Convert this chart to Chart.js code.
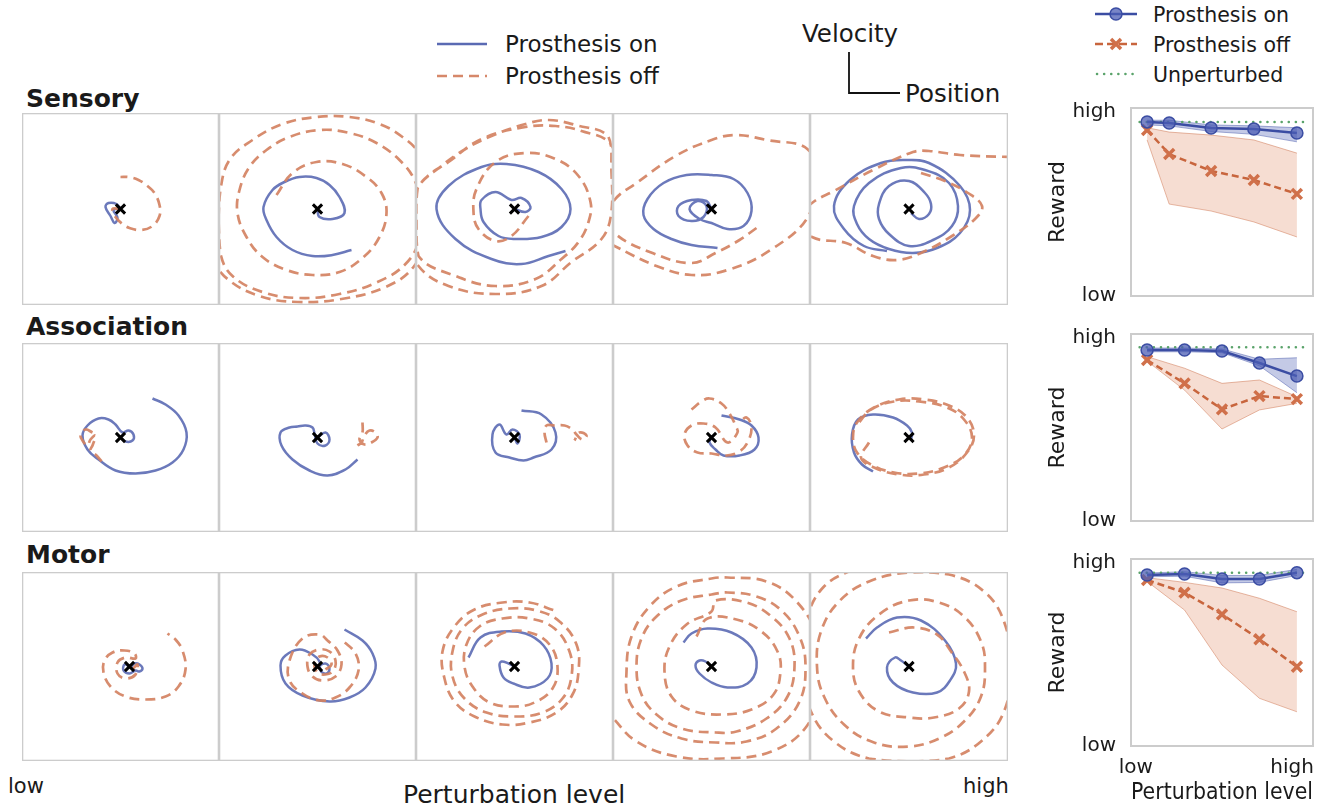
<!DOCTYPE html>
<html><head><meta charset="utf-8">
<script src="https://cdn.jsdelivr.net/npm/chart.js@4.4.1/dist/chart.umd.min.js"></script>
<style>
body{margin:0;width:1325px;height:809px;background:#fff;position:relative;overflow:hidden;font-family:"DejaVu Sans",sans-serif;color:#1a1a1a}
canvas{position:absolute}
.t{position:absolute;white-space:nowrap;line-height:1;transform:translateY(-50%)}
svg{position:absolute;left:0;top:0}
</style></head><body>
<svg width="1325" height="809">
  <line x1="437" y1="44" x2="487" y2="44" stroke="#5a6ab3" stroke-width="2.5"/>
  <line x1="437" y1="76" x2="487" y2="76" stroke="#d6886a" stroke-width="2.6" stroke-dasharray="10,6"/>
  <polyline points="849,52 849,93 900,93" fill="none" stroke="#111" stroke-width="1.8"/>
  <line x1="1095" y1="14" x2="1137" y2="14" stroke="#3b4da3" stroke-width="2.5"/>
  <circle cx="1116" cy="14" r="6" fill="rgba(76,94,180,0.75)" stroke="#3b4da3" stroke-width="1.5"/>
  <line x1="1095" y1="44" x2="1137" y2="44" stroke="#c8653d" stroke-width="2.5" stroke-dasharray="8,4"/>
  <path d="M1111,39 L1121,49 M1121,39 L1111,49" stroke="#d0704a" stroke-width="3.5"/>
  <line x1="1097" y1="74" x2="1137" y2="74" stroke="#5aa36a" stroke-width="2.5" stroke-dasharray="0.1,7" stroke-linecap="round"/>
</svg>
<div class="t" style="left:505px;top:44px;font-size:23px">Prosthesis on</div>
<div class="t" style="left:505px;top:76px;font-size:23px">Prosthesis off</div>
<div class="t" style="left:802px;top:34px;font-size:24.5px">Velocity</div>
<div class="t" style="left:905px;top:94px;font-size:24.5px">Position</div>
<div class="t" style="left:1153px;top:15px;font-size:20.5px">Prosthesis on</div>
<div class="t" style="left:1153px;top:45px;font-size:20.5px">Prosthesis off</div>
<div class="t" style="left:1153px;top:75px;font-size:20.5px">Unperturbed</div>
<div class="t" style="left:26px;top:98px;font-size:25px;font-weight:bold">Sensory</div>
<div class="t" style="left:26px;top:326px;font-size:25px;font-weight:bold">Association</div>
<div class="t" style="left:26px;top:554px;font-size:25px;font-weight:bold">Motor</div>
<div class="t" style="left:8px;top:786px;font-size:21px">low</div>
<div class="t" style="left:963px;top:786px;font-size:21px">high</div>
<div class="t" style="left:403px;top:794px;font-size:25px">Perturbation level</div>
<script>
// ---------- phase-portrait trajectories (position, velocity), flat [x,y,...] ----------
const S1_on=[0,0,-4,5,-12,6,-15,2,-10,-7,-6,-14,-3,-9,-7,-1,0,0];
const S1_off=[0,0,-8,0,-5,-8,2,-15,9,-19,21,-21,32,-17,39,-7,39,4,34,16,27,23,18,29,8,32,0,32];
const S2_on=[0,0,2,-8,15,-10,27,-4,22,12,12,24,-1,31,-18,32,-33,27,-45,19,-54,2,-51,-11,-41,-28,-25,-41,-5,-47,15,-46,34,-41];
const S2_off=[-41,14,-25,36,-1,47,25,45,49,32,64,16,69,-4,62,-28,45,-49,22,-63,-5,-66,-31,-61,-55,-48,-71,-28,-80,-4,-78,19,-68,42,-51,59,-28,72,2,79,32,76,59,66,82,49,97,29,104,2,102,-30,88,-55,60,-73,22,-85,-18,-89,-55,-83,-85,-67,-97,-45,-99,-10,-97,20,-88,49,-65,69,-35,85,-1,92,32,92,62,85,85,72,102,55,112,25,110,-25,96,-58,68,-78,24,-90,-20,-93,-58,-87,-90,-70,-110,-45];
const S3_on=[0,0,11,-3,16,2,7,11,-3,9,-19,17,-33,9,-34,0,-31,-13,-16,-27,1,-30,27,-28,47,-18,56,0,47,20,24,37,-8,45,-33,42,-66,23,-78,0,-59,-30,-23,-50,7,-55,34,-47,51,-42];
const S3_off=[14,-7,-3,-27,-19,-32,-36,-20,-41,-3,-38,20,-19,47,11,56,41,50,64,33,76,7,74,-13,64,-33,47,-50,21,-70,-19,-77,-59,-67,-96,-47,-98,-13,-97,20,-73,43,-49,60,-23,73,11,85,34,89,61,84,94,72,97,37,97,-3,87,-30,57,-53,27,-77,-19,-85,-66,-77,-96,-57,-103,-30,-101,10,-90,30,-66,47,-33,70,11,82,41,83,67,78,96,65,104,30];
const S4_on=[0,0,-5,8,-20,9,-33,3,-33,-7,-20,-12,-8,-8,-5,3,-14,8,-22,0,-12,-10,0,-14,16,-20,32,-17,40,-2,36,16,22,30,0,34,-25,34,-48,26,-64,10,-68,-6,-58,-20,-40,-30,-20,-36,6,-39];
const S4_off=[45,-19,28,-31,4,-44,-20,-54,-59,-44,-97,-24,-101,-7,-97,9,-75,26,-36,53,0,69,24,74,55,69,97,59,99,26,97,-7,59,-41,16,-61,-20,-66,-55,-57,-97,-37,-108,-31];
const S5_on=[2,-4,10,-10,20,-5,22,5,16,16,0,28,-20,23,-30,5,-30,-10,-20,-25,0,-37,24,-31,43,-17,49,3,40,26,16,39,-8,41,-40,26,-55,3,-52,-15,-40,-30,-20,-40,4,-44,28,-39,51,-24,61,-1,51,23,20,46,-4,49,-28,46,-59,29,-75,3,-65,-20,-45,-37,-22,-42];
const S5_off=[12,36,36,28,59,16,73,3,67,-9,43,-27,12,-44,-12,-51,-36,-47,-63,-34,-97,-28,-110,-10,-97,6,-75,18,-36,39,4,57,20,58,51,54,100,52];
const A1_on=[0,0,5,-4,12,-3,13,3,8,7,2,5,-5,13,-12,18,-22,19,-33,12,-38,2,-33,-12,-22,-22,-5,-33,15,-36,35,-33,52,-25,63,-12,66,5,58,22,45,33,32,39];
const A1_off=[-28,5,-35,8,-40,3,-38,-3,-33,-8,-30,-2,-25,2,-28,-8,-30,-13,-24,-18,-18,-25];
const A2_on=[0,0,8,5,12,-2,8,-8,0,-6,-3,4,-5,10,-12,12,-20,11,-28,10,-37,5,-36,-8,-25,-22,-8,-33,10,-38,28,-32,40,-22];
const A2_off=[45,15,45,5,42,-2,47,-7,54,-5,60,0,58,5,52,7,47,2,44,-5,40,-8];
const A3_on=[0,0,3,-6,5,3,-2,8,-8,3,-15,13,-22,3,-19,-15,-5,-20,9,-23,19,-20,37,-12,41,5,27,23,7,27];
const A3_off=[32,-5,30,5,32,12,40,12,50,12,58,8,62,3,68,-2,72,2,65,5,60,-3];
const A4_on=[0,0,-2,-5,4,-12,12,-18,28,-18,43,-12,47,0,40,12,28,18,10,22];
const A4_off=[-20,28,-10,36,-2,39,10,34,18,24,24,12,26,5,16,-5,4,10,-8,14,-20,12,-27,3,-24,-8,-14,-15,0,-16,15,-18,28,-14,36,-5,40,10,35,20,28,15];
const A5_on=[2,-2,3,5,-2,12,-16,20,-36,23,-51,18,-57,3,-55,-15,-47,-27,-36,-34];
const A5_off=[-40,-5,-48,-20,-35,-30,-10,-37,15,-37,40,-30,58,-15,65,2,58,20,40,32,15,38,-10,38,-35,30,-52,15,-56,0,-52,-15,-38,-27,-15,-35,10,-36,35,-30,55,-18,63,0,55,18,38,30,10,36,-15,36,-38,28,-50,15];
const M1_on=[9,0,4,2,3,-4,9,-7,15,-4,19,-5,22,-2,19,2,14,3,11,0];
const M1_off=[12,-3,17,2,15,-8,5,-12,-3,-7,-3,4,5,9,15,8,14,13,4,16,-8,14,-16,6,-17,-6,-10,-20,5,-30,25,-33,45,-30,58,-20,65,-3,62,16,55,27,47,33];
const M2_on=[0,0,8,3,12,-2,9,-7,3,-4,2,5,-5,12,-18,17,-32,11,-37,1,-32,-17,-15,-29,12,-35,32,-31,48,-21,58,-2,55,13,45,26,27,37];
const M2_off=[8,-3,14,2,10,9,2,10,-3,3,0,-6,8,-8,16,-4,18,6,12,15,2,17,-8,12,-10,0,-5,-10,5,-14,18,-10,24,2,20,16,10,26,2,32,-15,28,-28,6,-28,-14,-15,-27,2,-34,18,-31,32,-21,41,-4,38,13,25,26];
const M3_on=[0,0,-6,3,-13,5,-15,1,-11,-11,-1,-17,15,-21,33,-12,37,3,29,21,11,33,-13,35,-34,29,-46,9];
const M3_off=[-30,20,-10,34,15,34,35,22,43,0,38,-22,20,-36,0,-40,-25,-36,-42,-20,-50,0,-48,22,-35,40,-12,48,15,48,40,38,55,15,57,-10,48,-32,28,-46,0,-50,-28,-46,-50,-32,-62,-10,-62,15,-52,38,-32,52,-5,58,22,56,45,45,62,22,64,-5,58,-28,42,-46,15,-56,-12,-58,-40,-50,-60,-35,-70,-12,-72,15,-60,40,-40,57,-12,64,15,64,40,56];
const M4_on=[0,0,-6,5,-12,6,-16,1,-12,-7,0,-16,16,-21,36,-17,45,-1,40,19,20,34,-4,38,-20,33,-28,24];
const M4_off=[-15,30,-4,48,25,47,50,35,66,15,69,-5,62,-28,40,-43,10,-48,-20,-44,-40,-30,-47,-5,-42,20,-25,42,0,55,4,66,35,64,60,50,78,28,83,0,76,-30,55,-52,25,-65,4,-66,-30,-62,-55,-48,-70,-28,-75,0,-70,28,-55,50,-30,66,0,72,16,74,45,70,70,56,88,30,94,0,88,-35,65,-62,35,-75,4,-76,-30,-72,-60,-58,-82,-35,-85,-5,-80,30,-62,60,-35,80,0,88,16,89,55,85,85,65,105,30,108,-20,95,-60,60,-85,12,-92,-35,-90,-75,-75,-100,-50];
const M5_on=[0,0,-8,6,-14,9,-22,-1,-16,-16,4,-26,28,-26,41,-14,47,3,36,26,12,46,-12,49,-32,39,-43,28];
const M5_off=[-20,34,5,39,28,32,42,15,55,-5,60,-25,50,-42,25,-51,0,-51,-30,-45,-50,-25,-56,0,-50,28,-30,52,0,66,30,64,55,50,72,25,76,0,72,-30,55,-55,30,-72,0,-80,-35,-76,-65,-58,-85,-30,-92,0,-88,35,-70,65,-40,85,0,94,40,92,75,75,95,45,102,0,95,-45,72,-75,40,-92,4,-95,-40,-92,-75,-75,-98,-45,-108,0,-103,45,-85,80,-50,100];
// target (x marker) per panel
const targets=[[0,0],[0,0],[0,0],[0,0],[0,0],[0,0],[0,0],[0,0],[0,0],[0,0],[9,0],[0,0],[0,0],[0,0],[0,0]];
// ---------- reward curves ----------
const levels_sensory=[0,0.59,1.71,2.85,4];
const levels=[0,1,2,3,4];
const sens_on=[0.926,0.920,0.894,0.888,0.867];
const sens_on_lo=[0.91,0.905,0.875,0.86,0.82];
const sens_on_hi=[0.935,0.935,0.91,0.905,0.895];
const sens_off=[0.883,0.755,0.665,0.617,0.543];
const sens_off_hi=[0.895,0.872,0.856,0.83,0.76];
const sens_off_lo=[0.83,0.489,0.452,0.394,0.314];
const sens_unpert=0.926;
const assoc_on=[0.914,0.914,0.909,0.845,0.775];
const assoc_on_lo=[0.905,0.905,0.9,0.83,0.686];
const assoc_on_hi=[0.925,0.925,0.92,0.865,0.873];
const assoc_off=[0.861,0.736,0.597,0.668,0.652];
const assoc_off_hi=[0.879,0.817,0.736,0.754,0.665];
const assoc_off_lo=[0.855,0.70,0.492,0.594,0.629];
const assoc_unpert=0.929;
const motor_on=[0.914,0.92,0.893,0.893,0.927];
const motor_on_lo=[0.905,0.908,0.872,0.875,0.912];
const motor_on_hi=[0.925,0.932,0.912,0.912,0.945];
const motor_off=[0.888,0.82,0.704,0.571,0.424];
const motor_off_hi=[0.9,0.875,0.845,0.79,0.718];
const motor_off_lo=[0.88,0.727,0.433,0.255,0.183];
const motor_unpert=0.927;
const yTickLabels=['low','high'];
const xTickLabels=['low','high'];

// ---------- layout ----------
const XS=[22,219,416,613,810,1008];
const YS=[[113,305],[343,532],[572,761]];
const PANELS=[[S1_on,S1_off],[S2_on,S2_off],[S3_on,S3_off],[S4_on,S4_off],[S5_on,S5_off],
 [A1_on,A1_off],[A2_on,A2_off],[A3_on,A3_off],[A4_on,A4_off],[A5_on,A5_off],
 [M1_on,M1_off],[M2_on,M2_off],[M3_on,M3_off],[M4_on,M4_off],[M5_on,M5_off]];
function P(a){const r=[];for(let i=0;i<a.length;i+=2)r.push({x:a[i],y:a[i+1]});return r;}
function PL(xs,ys){return ys.map((v,i)=>({x:xs[i],y:v}));}
const frame={id:'frame',afterDraw(c,args,o){const a=c.chartArea,x=c.ctx;x.save();x.strokeStyle='#cccccc';x.lineWidth=o.w||2;x.strokeRect(a.left,a.top,a.right-a.left,a.bottom-a.top);x.restore();}};
function mk(left,top,w,h){const c=document.createElement('canvas');c.width=w;c.height=h;c.style.left=left+'px';c.style.top=top+'px';c.style.width=w+'px';c.style.height=h+'px';document.body.appendChild(c);return c;}

PANELS.forEach((p,i)=>{
  const r=Math.floor(i/5),col=i%5;
  const w=XS[col+1]-XS[col],h=YS[r][1]-YS[r][0];
  const cv=mk(XS[col],YS[r][0],w,h);
  new Chart(cv,{type:'scatter',data:{datasets:[
    {data:[{x:targets[i][0],y:targets[i][1]}],pointStyle:'crossRot',pointRadius:6.5,borderColor:'#000',borderWidth:3,clip:false},
    {data:P(p[1]),showLine:true,borderColor:'rgba(212,130,98,0.92)',borderWidth:2.7,borderDash:[10,6],pointRadius:0,tension:0.4,clip:0},
    {data:P(p[0]),showLine:true,borderColor:'rgba(86,102,178,0.88)',borderWidth:2.5,pointRadius:0,tension:0.4,clip:0}
  ]},options:{animation:false,responsive:false,events:[],layout:{padding:0,autoPadding:false},
    plugins:{legend:{display:false},tooltip:{enabled:false},frame:{w:2.6}},
    scales:{x:{display:false,type:'linear',min:-w/2,max:w/2},y:{display:false,min:-h/2,max:h/2}}},plugins:[frame]});
});

function reward(top,h,padTop,padBottom,lv,on,onLo,onHi,off,offLo,offHi,unp,showX){
  const cv=mk(1040,top,285,h);
  const F={family:'DejaVu Sans'};
  new Chart(cv,{type:'line',data:{datasets:[
    {data:PL(lv,on),borderColor:'#3b4da3',borderWidth:2.5,pointStyle:'circle',pointRadius:6,pointBackgroundColor:'rgba(76,94,180,0.75)',pointBorderColor:'#3b4da3',pointBorderWidth:1.5,fill:false,tension:0},
    {data:PL(lv,off),borderColor:'#c8653d',borderDash:[7,4],borderWidth:2.5,pointStyle:'crossRot',pointRadius:7,pointBorderColor:'#d0704a',pointBorderWidth:3.5,fill:false,tension:0},
    {data:[{x:-0.2,y:unp},{x:4.2,y:unp}],borderColor:'#5aa36a',borderDash:[0.1,7],borderCapStyle:'round',borderWidth:2.5,pointRadius:0,fill:false},
    {data:PL(lv,onHi),borderColor:'rgba(59,77,163,0.45)',borderWidth:1,backgroundColor:'rgba(76,94,180,0.33)',fill:'+1',pointRadius:0,tension:0},
    {data:PL(lv,onLo),borderColor:'rgba(59,77,163,0.45)',borderWidth:1,pointRadius:0,fill:false,tension:0},
    {data:PL(lv,offHi),borderColor:'rgba(200,101,61,0.45)',borderWidth:1,backgroundColor:'rgba(221,132,92,0.28)',fill:'+1',pointRadius:0,tension:0},
    {data:PL(lv,offLo),borderColor:'rgba(200,101,61,0.45)',borderWidth:1,pointRadius:0,fill:false,tension:0}
  ]},options:{animation:false,responsive:false,events:[],layout:{padding:{top:padTop,bottom:padBottom,left:0,right:12},autoPadding:false},
    plugins:{legend:{display:false},tooltip:{enabled:false},frame:{w:2}},
    scales:{
      x:{type:'linear',min:-0.43,max:4.43,display:showX,grid:{display:false,drawTicks:false},border:{display:false},
         afterBuildTicks:s=>{s.ticks=[{value:-0.3},{value:3.87}];},
         ticks:{callback:(v,i)=>xTickLabels[i],font:{...F,size:20},color:'#1a1a1a',padding:10,maxRotation:0,autoSkip:false},
         title:{display:true,text:'Perturbation level',font:{...F,size:23},color:'#1a1a1a',padding:{top:0,bottom:2}},
         afterFit:s=>{if(showX)s.height=63;s.paddingLeft=0;s.paddingRight=0;}},
      y:{min:0,max:1,grid:{display:false,drawTicks:false},border:{display:false},
         afterBuildTicks:s=>{s.ticks=[{value:0},{value:0.98}];},
         ticks:{callback:(v,i)=>yTickLabels[i],font:{...F,size:20},color:'#1a1a1a',padding:15,autoSkip:false},
         title:{display:true,text:'Reward',font:{...F,size:22},color:'#1a1a1a',padding:{top:5,bottom:0}},
         afterFit:s=>{s.width=91;s.paddingTop=0;s.paddingBottom=0;}}
    }},plugins:[frame]});
}
reward(88,226,20,18,levels_sensory,sens_on,sens_on_lo,sens_on_hi,sens_off,sens_off_lo,sens_off_hi,sens_unpert,false);
reward(314,225,20,18,levels,assoc_on,assoc_on_lo,assoc_on_hi,assoc_off,assoc_off_lo,assoc_off_hi,assoc_unpert,false);
reward(539,270,20,0,levels,motor_on,motor_on_lo,motor_on_hi,motor_off,motor_off_lo,motor_off_hi,motor_unpert,true);
</script>
</body></html>
